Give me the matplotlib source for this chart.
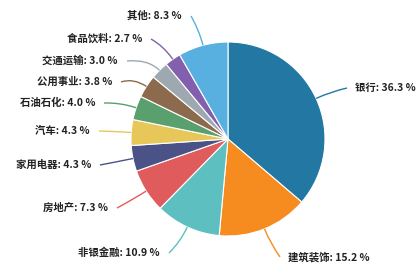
import numpy as np
import matplotlib
matplotlib.use("Agg")
import matplotlib.pyplot as plt
from matplotlib.path import Path
from matplotlib.patches import PathPatch

# sector shares, clockwise from 12 o'clock
names = ["银行", "建筑装饰", "非银金融", "房地产", "家用电器", "汽车",
         "石油石化", "公用事业", "交通运输", "食品饮料", "其他"]
shares = [36.3, 15.2, 10.9, 7.3, 4.3, 4.3, 4.0, 3.8, 3.0, 2.7, 8.3]
colors = ["#2277a3", "#f68b1f", "#5dbfc0", "#e05b5c", "#4a5287", "#e8c75a",
          "#5a9f6e", "#8b6a4e", "#9ea8b0", "#8260ad", "#57b0df"]

# label anchor (pixel x, pixel y from top) and side
label_pos = [(355, 88, "left"), (288, 257, "left"), (160, 253, "right"),
             (108, 208, "right"), (91, 165, "right"), (90, 131, "right"),
             (95, 103, "right"), (112, 82, "right"), (118, 61, "right"),
             (142, 39, "right"), (182, 16, "right")]

W, H = 418, 267
fig = plt.figure(figsize=(W / 100, H / 100), dpi=100)
ax = fig.add_axes([0, 0, 1, 1])

cx, cy, r = 228, H - 139, 97
wedges, _ = ax.pie(shares, colors=colors, startangle=90, counterclock=False,
                   center=(cx, cy), radius=r, frame=True,
                   wedgeprops=dict(edgecolor="white", linewidth=0.8))
ax.set_xlim(0, W)
ax.set_ylim(0, H)
ax.set_aspect("equal")
ax.axis("off")

for w, name, val, col, (lx, ly, side) in zip(wedges, names, shares, colors, label_pos):
    mid = np.deg2rad((w.theta1 + w.theta2) / 2)
    p0 = (cx + r * np.cos(mid), cy + r * np.sin(mid))
    ctrl = (cx + (r + 16) * np.cos(mid), cy + (r + 16) * np.sin(mid))
    ty = H - ly
    if side == "left":
        end = (lx - 8, ty)
        ha = "left"
    else:
        end = (lx + 9, ty)
        ha = "right"
    path = Path([p0, ctrl, end], [Path.MOVETO, Path.CURVE3, Path.CURVE3])
    ax.add_patch(PathPatch(path, facecolor="none", edgecolor=col, lw=1.0))
    ax.text(lx, ty, f"{name}: {val:.1f} %", ha=ha, va="center",
            fontsize=7.5, fontweight="bold", color="#222222",
            family=["Noto Sans CJK SC", "DejaVu Sans"])

fig.savefig("out.png", dpi=100)
